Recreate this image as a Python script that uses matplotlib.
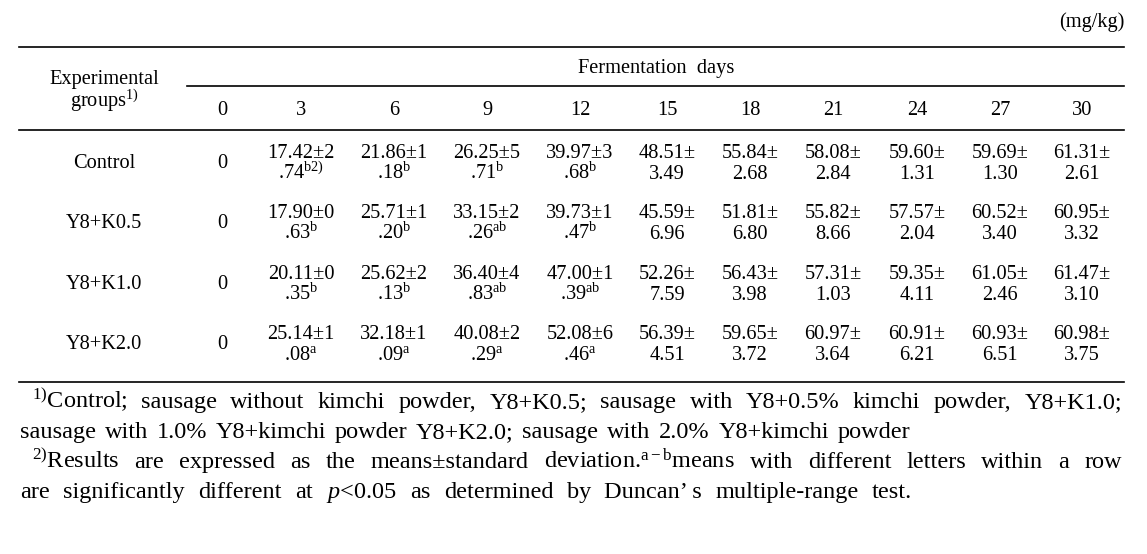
import matplotlib
matplotlib.use("Agg")
import matplotlib.pyplot as plt

plt.rcParams['font.family'] = ['Liberation Serif', 'DejaVu Serif']
plt.rcParams['mathtext.fontset'] = 'custom'
plt.rcParams['mathtext.rm'] = 'Liberation Serif'
plt.rcParams['mathtext.it'] = 'Liberation Serif:italic'
plt.rcParams['mathtext.bf'] = 'Liberation Serif:bold'

# data
days = [0, 3, 6, 9, 12, 15, 18, 21, 24, 27, 30]
groups = ['Control', 'Y8+K0.5', 'Y8+K1.0', 'Y8+K2.0']
means = [
    [0, 17.42, 21.86, 26.25, 39.97, 48.51, 55.84, 58.08, 59.60, 59.69, 61.31],
    [0, 17.90, 25.71, 33.15, 39.73, 45.59, 51.81, 55.82, 57.57, 60.52, 60.95],
    [0, 20.11, 25.62, 36.40, 47.00, 52.26, 56.43, 57.31, 59.35, 61.05, 61.47],
    [0, 25.14, 32.18, 40.08, 52.08, 56.39, 59.65, 60.97, 60.91, 60.93, 60.98],
]
sds = [
    [0, 2.74, 1.18, 5.71, 3.68, 3.49, 2.68, 2.84, 1.31, 1.30, 2.61],
    [0, 0.63, 1.20, 2.26, 1.47, 6.96, 6.80, 8.66, 2.04, 3.40, 3.32],
    [0, 0.35, 2.13, 4.83, 1.39, 7.59, 3.98, 1.03, 4.11, 2.46, 3.10],
    [0, 1.08, 1.09, 2.29, 6.46, 4.51, 3.72, 3.64, 6.21, 6.51, 3.75],
]
letters = [
    ['', 'b2)', 'b', 'b', 'b', '', '', '', '', '', ''],
    ['', 'b', 'b', 'ab', 'b', '', '', '', '', '', ''],
    ['', 'b', 'b', 'ab', 'ab', '', '', '', '', '', ''],
    ['', 'a', 'a', 'a', 'a', '', '', '', '', '', ''],
]
# where each cell string breaks onto its second line
wrap_at = [0, 7, 7, 7, 7, 6, 6, 6, 6, 6, 6]

unit = '(mg/kg)'
foot_lines = [
    ['$^{\\mathrm{1)}}$Control;', 'sausage', 'without', 'kimchi', 'powder,', 'Y8+K0.5;', 'sausage',
     'with', 'Y8+0.5%', 'kimchi', 'powder,', 'Y8+K1.0;'],
    ['sausage', 'with', '1.0%', 'Y8+kimchi', 'powder', 'Y8+K2.0;', 'sausage', 'with', '2.0%',
     'Y8+kimchi', 'powder'],
    ['$^{\\mathrm{2)}}$Results', 'are', 'expressed', 'as', 'the', 'means\u00b1standard',
     'deviation.$^{\\mathrm{a}-\\mathrm{b}}$means', 'with', 'different', 'letters', 'within', 'a', 'row'],
    ['are', 'significantly', 'different', 'at', '$\\mathit{p}$<0.05', 'as', 'determined', 'by',
     'Duncan\u2019 s', 'multiple-range', 'test.'],
]

# layout (pixel space, baselines)
W, H = 1147, 554
col_x = [222, 301, 394, 487, 580, 667, 750, 833, 917, 1000, 1082]
row_base = [168, 228, 289, 349]
x_left, x_right = 19, 1124
fs = 14.7
foot_fs = 17.5
foot_x0 = [32, 20, 32, 20]
foot_x1 = [1122, 910, 1122, 912]
foot_base = [408, 438, 468, 498]

fig = plt.figure(figsize=(W / 100, H / 100), dpi=100)
ax = fig.add_axes([0, 0, 1, 1])
ax.set_xlim(0, W)
ax.set_ylim(H, 0)
ax.axis('off')

lw = 1.2
ax.plot([x_left, x_right], [47, 47], color='black', lw=lw)
ax.plot([187, x_right], [86, 86], color='black', lw=lw)
ax.plot([x_left, x_right], [130, 130], color='black', lw=lw)
ax.plot([x_left, x_right], [382, 382], color='black', lw=lw)

ax.text(x_right, 27, unit, ha='right', va='baseline', fontsize=fs)
ax.text(104, 84, 'Experimental', ha='center', va='baseline', fontsize=fs)
ax.text(104, 107, 'groups$^{\\mathrm{1)}}$', ha='center', va='baseline', fontsize=fs)
ax.text(656, 73, 'Fermentation  days', ha='center', va='baseline', fontsize=fs)
for x, d in zip(col_x, days):
    ax.text(x, 115, str(d), ha='center', va='baseline', fontsize=fs)

for i, g in enumerate(groups):
    y = row_base[i]
    ax.text(104, y, g, ha='center', va='baseline', fontsize=fs)
    for j, x in enumerate(col_x):
        if means[i][j] == 0:
            ax.text(x, y, '0', ha='center', va='baseline', fontsize=fs)
            continue
        s = f'{means[i][j]:.2f}\u00b1{sds[i][j]:.2f}'
        top, bot = s[:wrap_at[j]], s[wrap_at[j]:]
        if letters[i][j]:
            bot = bot + '$^{\\mathrm{' + letters[i][j] + '}}$'
        ax.text(x, y - 10, top, ha='center', va='baseline', fontsize=fs)
        ax.text(x, y + 11, bot, ha='center', va='baseline', fontsize=fs)

# justified footnotes
fig.canvas.draw()
renderer = fig.canvas.get_renderer()
for k, words in enumerate(foot_lines):
    texts = [ax.text(0, foot_base[k], w, ha='left', va='baseline', fontsize=foot_fs) for w in words]
    widths = [t.get_window_extent(renderer).width for t in texts]
    gap = (foot_x1[k] - foot_x0[k] - sum(widths)) / (len(words) - 1)
    x = foot_x0[k]
    for t, w in zip(texts, widths):
        t.set_x(x)
        x += w + gap

fig.savefig('out.png', dpi=100)
